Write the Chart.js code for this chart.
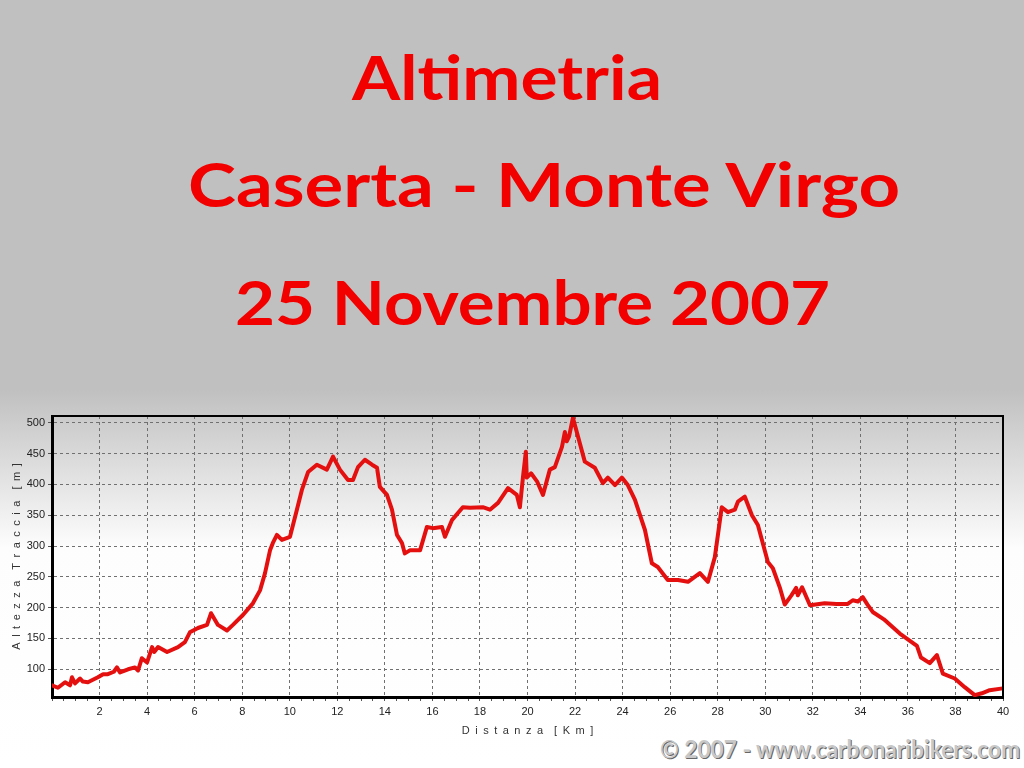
<!DOCTYPE html>
<html>
<head>
<meta charset="utf-8">
<script src="https://cdn.jsdelivr.net/npm/chart.js@4.4.0/dist/chart.umd.min.js"></script>
<style>
    html, body { margin: 0; padding: 0; }
    body {
        width: 1024px; height: 768px; overflow: hidden; position: relative;
        background: linear-gradient(to bottom, #c0c0c0 0px, #c0c0c0 390px, #fdfdfd 548px, #ffffff 768px);
    }
    .head {
        position: absolute; margin: 0; white-space: nowrap;
        font-family: "Comic Sans MS", "Lato", "DejaVu Sans", sans-serif;
        font-weight: bold; font-size: 62px; line-height: 62px;
        color: #f20000; transform-origin: left top;
    }
    #foot {
        position: absolute; white-space: nowrap;
        font-family: "Comic Sans MS", "Lato", "DejaVu Sans", sans-serif;
        font-weight: bold; font-size: 24px; line-height: 24px;
        color: #c8c8c8; text-shadow: 1px 1px 0 #666, -1px -1px 0 #fff;
        transform-origin: left top;
    }
    #chart-box { position: absolute; left: 0; top: 405px; }
</style>
</head>
<body>
<div class="head" style="left:352px; top:45px" data-w="310">Altimetria</div>
<div class="head" style="left:188px; top:152px" data-w="712">Caserta - Monte Virgo</div>
<div class="head" style="left:235px; top:270px" data-w="595">25 Novembre 2007</div>
<div id="foot" style="left:660px; top:737px" data-w="360">© 2007 - www.carbonaribikers.com</div>
<div id="chart-box"><canvas id="alt-chart" width="1024" height="337"></canvas></div>

<script>
const distKm = [
    0.00, 0.25, 0.55, 0.76, 0.84, 0.97, 1.18, 1.30, 1.51, 1.93,
    2.15, 2.35, 2.60, 2.73, 2.86, 3.20, 3.49, 3.62, 3.78, 4.00,
    4.21, 4.30, 4.46, 4.84, 5.30, 5.59, 5.80, 6.14, 6.52, 6.69,
    6.98, 7.36, 7.61, 8.03, 8.45, 8.75, 8.96, 9.17, 9.29, 9.46,
    9.67, 10.01, 10.30, 10.51, 10.77, 11.14, 11.56, 11.82, 12.11, 12.45,
    12.66, 12.87, 13.16, 13.46, 13.67, 13.79, 14.09, 14.30, 14.51, 14.72,
    14.84, 15.05, 15.48, 15.77, 16.02, 16.40, 16.53, 16.82, 17.28, 17.58,
    18.12, 18.42, 18.76, 19.18, 19.55, 19.68, 19.81, 19.93, 19.97, 20.15,
    20.40, 20.65, 20.94, 21.15, 21.45, 21.57, 21.65, 21.75, 21.91, 22.41,
    22.83, 23.17, 23.38, 23.68, 23.97, 24.22, 24.52, 24.94, 25.23, 25.48,
    25.90, 26.33, 26.75, 27.25, 27.59, 27.88, 28.17, 28.43, 28.72, 28.85,
    29.14, 29.44, 29.69, 30.11, 30.32, 30.61, 30.82, 31.10, 31.30, 31.37,
    31.55, 31.88, 32.50, 33.00, 33.47, 33.68, 33.90, 34.10, 34.30, 34.52,
    34.99, 35.66, 36.38, 36.55, 36.92, 37.22, 37.47, 37.97, 38.39, 38.81,
    39.11, 39.44, 39.99
];
const altM = [
    74, 70, 79, 74, 87, 77, 85, 80, 79, 87,
    92, 92, 96, 103, 95, 100, 103, 98, 118, 111,
    136, 128, 136, 128, 136, 144, 160, 167, 172, 191,
    172, 163, 172, 188, 207, 228, 256, 293, 305, 318,
    310, 315, 359, 391, 420, 432, 424, 445, 424, 407,
    407, 428, 440, 432, 427, 396, 383, 359, 318, 305,
    288, 293, 293, 331, 329, 331, 315, 342, 363, 362,
    363, 359, 370, 394, 383, 363, 412, 453, 411, 418,
    405, 383, 424, 428, 461, 485, 470, 478, 508, 437,
    427, 402, 411, 399, 411, 399, 375, 326, 272, 266,
    245, 245, 242, 256, 242, 282, 363, 355, 359, 372,
    380, 350, 334, 274, 264, 233, 205, 220, 232, 220,
    233, 204, 207, 206, 206, 212, 210, 217, 205, 193,
    181, 158, 138, 119, 110, 123, 93, 85, 71, 58,
    61, 66, 69
];
const yTickValues = [100, 150, 200, 250, 300, 350, 400, 450, 500];
const xLabelValues = [2, 4, 6, 8, 10, 12, 14, 16, 18, 20, 22, 24, 26, 28, 30, 32, 34, 36, 38, 40];

// adatta la larghezza dei titoli
document.querySelectorAll("[data-w]").forEach(el => {
    const w = el.getBoundingClientRect().width;
    el.style.transform = "scaleX(" + (parseFloat(el.dataset.w) / w) + ")";
});

// titoli degli assi con lettere spaziate
function spaced(text) {
    return text.split(" ").map(w => w.split("").join("\u2002")).join("\u2002\u2002");
}

const frame = {
    id: "frame",
    afterDraw(chart) {
        const a = chart.chartArea;
        const c = chart.ctx;
        c.save();
        c.strokeStyle = "#000";
        c.lineWidth = 2;
        c.beginPath();
        c.moveTo(a.left, a.top);
        c.lineTo(a.right, a.top);
        c.lineTo(a.right, a.bottom);
        c.stroke();
        c.restore();
    }
};

const tickFont = { family: "Liberation Sans, Arial, sans-serif", size: 11 };

new Chart(document.getElementById("alt-chart").getContext("2d"), {
    type: "line",
    data: {
        datasets: [{
            data: distKm.map((d, i) => ({ x: d, y: altM[i] })),
            borderColor: "#e41010",
            borderWidth: 4,
            borderJoinStyle: "round",
            borderCapStyle: "round",
            pointRadius: 0,
            tension: 0,
            fill: false
        }]
    },
    options: {
        responsive: false,
        animation: false,
        devicePixelRatio: 1,
        layout: { padding: { top: 11, right: 21, left: 0, bottom: 0 } },
        plugins: {
            legend: { display: false },
            tooltip: { enabled: false }
        },
        scales: {
            x: {
                type: "linear",
                min: 0,
                max: 40,
                afterFit: s => { s.height = 45; },
                ticks: {
                    stepSize: 0.5,
                    autoSkip: false,
                    maxRotation: 0,
                    padding: 4,
                    color: "#222",
                    font: tickFont,
                    callback: v => xLabelValues.includes(v) ? String(v) : ""
                },
                grid: {
                    tickLength: 4,
                    color: ctx => (ctx.tick && ctx.tick.value % 2 === 0) ? "#707070" : "rgba(0,0,0,0)",
                    tickColor: "#555",
                    lineWidth: 1
                },
                border: { color: "#000", width: 3, dash: [3, 3] },
                title: {
                    display: true,
                    text: spaced("Distanza [Km]"),
                    color: "#333",
                    font: tickFont,
                    padding: { top: 8 }
                }
            },
            y: {
                min: 55,
                max: 511,
                afterFit: s => { s.width = 52; },
                afterBuildTicks: s => { s.ticks = yTickValues.map(v => ({ value: v })); },
                ticks: {
                    padding: 3,
                    color: "#222",
                    font: tickFont
                },
                grid: {
                    tickLength: 4,
                    color: "#707070",
                    tickColor: "#555",
                    lineWidth: 1
                },
                border: { color: "#000", width: 3, dash: [3, 3] },
                title: {
                    display: true,
                    text: spaced("Altezza Traccia [m]"),
                    color: "#333",
                    font: tickFont,
                    padding: { top: 10 }
                }
            }
        }
    },
    plugins: [frame]
});
</script>
</body>
</html>
